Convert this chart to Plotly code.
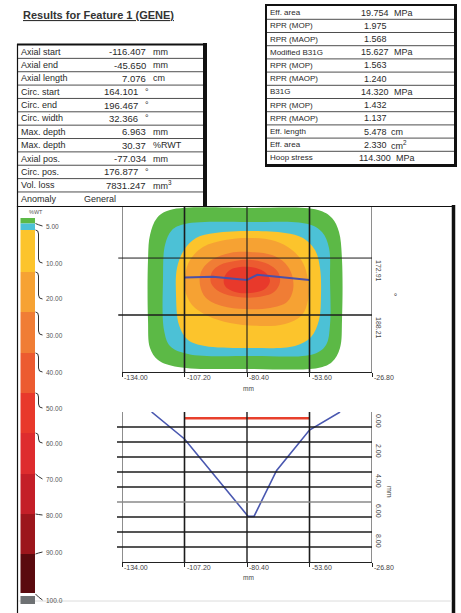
import plotly.graph_objects as go

W, H = 461, 613
FONT = "Liberation Sans"

# ---------------- data ----------------
title_text = "Results for Feature 1 (GENE)"

left_labels = ["Axial start", "Axial end", "Axial length", "Circ. start", "Circ. end", "Circ. width",
               "Max. depth", "Max. depth", "Axial pos.", "Circ. pos.", "Vol. loss", "Anomaly"]
left_values = ["-116.407", "-45.650", "7.076", "164.101", "196.467", "32.366",
               "6.963", "30.37", "-77.034", "176.877", "7831.247", "General"]
left_units = ["mm", "mm", "cm", "°", "°", "°", "mm", "%RWT", "mm", "°", "mm<sup>3</sup>", ""]

right_labels = ["Eff. area", "RPR (MOP)", "RPR (MAOP)", "Modified B31G", "RPR (MOP)", "RPR (MAOP)",
                "B31G", "RPR (MOP)", "RPR (MAOP)", "Eff. length", "Eff. area", "Hoop stress"]
right_values = ["19.754", "1.975", "1.568", "15.627", "1.563", "1.240",
                "14.320", "1.432", "1.137", "5.478", "2.330", "114.300"]
right_units = ["MPa", "", "", "MPa", "", "", "MPa", "", "", "cm", "cm<sup>2</sup>", "MPa"]

legend_title = "%WT"
legend_labels = ["5.00", "10.00", "20.00", "30.00", "40.00", "50.00",
                 "60.00", "70.00", "80.00", "90.00", "100.0"]
legend_colors = ["#5cb946", "#4cc1d6", "#fcc42c", "#f6a233", "#f07d35", "#ec5b30",
                 "#e8392b", "#de2c2e", "#c41f28", "#9c161c", "#5a0a0e", "#6e7173"]

map_x_ticks = [-134.00, -107.20, -80.40, -53.60, -26.80]
map_x_labels = ["-134.00", "-107.20", "-80.40", "-53.60", "-26.80"]
map_y_ticks = [172.91, 188.21]
map_y_labels = ["172.91", "188.21"]
map_y_range = [203.51, 159.20]

# depth band outlines (axial mm, circumferential deg), outer band first
band0_x = [-113.42, -79.11, -49.95, -43.95, -40.95, -39.66, -39.66, -40.52, -43.95, -49.95,
           -79.11, -109.99, -118.56, -121.99, -122.85, -122.85, -121.99, -118.99]
band0_y = [160.01, 159.47, 160.01, 162.15, 165.91, 173.43, 189.53, 197.05, 200.81, 202.42,
           202.68, 202.15, 200.27, 197.05, 189.53, 173.43, 166.72, 162.15]
band1_x = [-106.98, -79.97, -54.24, -48.24, -45.24, -44.81, -44.81, -46.52, -51.67, -79.11,
           -105.70, -113.42, -115.99, -116.42, -115.56, -112.56]
band1_y = [163.76, 163.23, 163.76, 165.91, 170.21, 178.80, 190.87, 196.24, 198.66, 199.20,
           198.66, 196.51, 192.22, 178.80, 169.40, 165.37]
band2_x = [-94.12, -79.11, -64.10, -56.38, -51.24, -49.09, -48.67, -49.52, -52.95, -59.81,
           -79.11, -98.41, -105.70, -109.56, -110.84, -110.42, -107.41, -102.27]
band2_y = [166.18, 165.64, 166.18, 167.52, 170.74, 175.57, 182.82, 189.53, 194.10, 196.51,
           197.05, 196.51, 194.90, 190.87, 182.82, 175.57, 170.74, 167.52]
band3_x = [-89.83, -79.11, -68.39, -61.10, -56.38, -54.24, -54.24, -56.81, -64.10, -74.82,
           -87.69, -97.12, -103.98, -106.98, -106.98, -104.84, -99.27]
band3_y = [168.06, 167.52, 168.33, 170.74, 174.23, 178.80, 184.16, 188.19, 190.61, 191.14,
           190.34, 188.46, 185.51, 181.48, 177.45, 173.43, 169.94]
band4_x = [-87.69, -79.11, -69.68, -64.10, -61.10, -60.67, -63.25, -70.54, -81.26, -91.12,
           -97.98, -100.55, -100.12, -96.26]
band4_y = [171.55, 171.28, 172.08, 174.23, 177.45, 181.48, 184.70, 186.31, 186.58, 185.78,
           183.63, 180.14, 176.65, 173.69]
band5_x = [-85.54, -78.25, -71.39, -67.11, -66.25, -68.82, -75.68, -84.26, -91.98, -95.84,
           -95.41, -91.98]
band5_y = [173.69, 173.43, 174.50, 176.65, 179.33, 182.02, 183.36, 183.36, 182.02, 179.60,
           176.65, 174.77]
band6_x = [-83.40, -76.54, -72.25, -70.54, -72.68, -79.11, -85.54, -89.83, -90.26, -87.69]
band6_y = [175.30, 175.57, 176.92, 179.06, 181.21, 182.28, 182.02, 180.41, 178.26, 176.11]

path_x = [-107.2, -95.0, -80.4, -76.0, -53.6]
path_y = [178.1, 177.9, 178.8, 177.4, 178.8]

profile_x = [-121.3, -107.2, -79.9, -77.4, -67.7, -53.6, -40.5]
profile_depth = [0.0, 1.8, 6.96, 6.96, 3.9, 1.2, 0.0]
sizing_x = [-107.2, -53.6]
sizing_depth = [0.42, 0.42]
prof_y_ticks = [0, 2, 4, 6, 8]
prof_y_labels = ["0.00", "2.00", "4.00", "6.00", "8.00"]
prof_grid = [1, 2, 3, 4, 5, 6, 7, 8, 9]
prof_y_range = [10, 0]


# ---------------- helpers (pixel -> paper) ----------------
def px(x):
    return x / W


def py(y):
    return 1 - y / H


shapes = []
annotations = []


def hline(y, x0, x1, color="#222", width=1.0):
    shapes.append(dict(type="line", xref="paper", yref="paper", x0=px(x0), x1=px(x1),
                       y0=py(y), y1=py(y), line=dict(color=color, width=width)))


def vline(x, y0, y1, color="#222", width=1.0):
    shapes.append(dict(type="line", xref="paper", yref="paper", x0=px(x), x1=px(x),
                       y0=py(y0), y1=py(y1), line=dict(color=color, width=width)))


def text(x, y, s, size=9, color="#2a2a2a", xanchor="left", yanchor="middle", angle=0,
         xref="paper", yref="paper"):
    annotations.append(dict(x=x, y=y, xref=xref, yref=yref, text=s, showarrow=False,
                            xanchor=xanchor, yanchor=yanchor, textangle=angle,
                            font=dict(family=FONT, size=size, color=color)))


# ---------------- figure ----------------
fig = go.Figure()

bands = [(band0_x, band0_y), (band1_x, band1_y), (band2_x, band2_y), (band3_x, band3_y),
         (band4_x, band4_y), (band5_x, band5_y), (band6_x, band6_y)]
for (bx, by), col in zip(bands, legend_colors[:7]):
    fig.add_trace(go.Scatter(x=bx + bx[:1], y=by + by[:1], mode="lines", fill="toself",
                             fillcolor=col, line=dict(width=0, shape="spline", smoothing=1.0, color=col),
                             hoverinfo="skip", xaxis="x", yaxis="y"))

fig.add_trace(go.Scatter(x=path_x, y=path_y, mode="lines", line=dict(color="#4b50a8", width=2),
                         hoverinfo="skip", xaxis="x", yaxis="y"))

fig.add_trace(go.Scatter(x=sizing_x, y=sizing_depth, mode="lines", line=dict(color="#e8402c", width=2.6),
                         hoverinfo="skip", xaxis="x2", yaxis="y2"))
fig.add_trace(go.Scatter(x=profile_x, y=profile_depth, mode="lines", line=dict(color="#4a58b0", width=1.6),
                         hoverinfo="skip", xaxis="x2", yaxis="y2"))

# map grid lines (drawn above the bands)
map_v_widths = [1.0, 1.6, 1.1, 1.6, 1.0]
for v, w in zip(map_x_ticks, map_v_widths):
    shapes.append(dict(type="line", xref="x", yref="y domain", x0=v, x1=v, y0=0, y1=1,
                       line=dict(color="#1c1c1c", width=w)))
for v, w in zip(map_y_ticks, [1.0, 1.6]):
    shapes.append(dict(type="line", xref="x domain", yref="y", x0=-0.015, x1=1, y0=v, y1=v,
                       line=dict(color="#1c1c1c", width=w)))

# profile grid lines
prof_v_widths = [1.0, 1.6, 1.4, 1.6, 1.0]
for v, w in zip(map_x_ticks, prof_v_widths):
    shapes.append(dict(type="line", xref="x2", yref="y2 domain", x0=v, x1=v, y0=0, y1=1,
                       line=dict(color="#1c1c1c", width=w)))
for v in prof_grid:
    shapes.append(dict(type="line", xref="x2 domain", yref="y2", x0=-0.02, x1=1, y0=v, y1=v,
                       line=dict(color="#8a8a8a" if v == 6 else "#1c1c1c", width=1.3)))

# tick labels (x below, rotated y on the right)
for v, s in zip(map_x_ticks, map_x_labels):
    text(v, py(378), s, size=7, color="#444", xanchor="left", xref="x")
    text(v, py(567), s, size=7, color="#444", xanchor="left", xref="x2")
for v, s in zip(map_y_ticks, map_y_labels):
    text(px(379), v, s, size=7, color="#444", xanchor="center", yanchor="top", angle=90, yref="y")
for v, s in zip(prof_y_ticks, prof_y_labels):
    text(px(379), v, s, size=7, color="#444", xanchor="center", yanchor="top", angle=90, yref="y2")
text(px(393), py(294), "°", size=8, color="#222", xanchor="center", yanchor="middle", angle=90)
text(px(390), py(492), "mm", size=7, color="#444", xanchor="center", yanchor="middle", angle=90)
text(px(249), py(388), "mm", size=6.5, color="#444", xanchor="center")
text(px(249), py(577), "mm", size=6.5, color="#444", xanchor="center")

# ---------------- title ----------------
text(px(21), py(15), "<b><u>" + title_text + "</u></b>", size=11, color="#333")

# ---------------- left table ----------------
lt_top, lt_row = 45.0, 13.36
for i, (lab, val, unit) in enumerate(zip(left_labels, left_values, left_units)):
    yc = lt_top + lt_row * (i + 0.5)
    text(px(19), py(yc), lab, size=9)
    if unit == "":
        text(px(82), py(yc), val, size=9)
    else:
        right_edge = 140 if unit == "°" else 148
        text(px(right_edge), py(yc), val, size=9.5, xanchor="right")
        text(px(right_edge + 3), py(yc), unit, size=9)
for k in range(1, 12):
    hline(lt_top + lt_row * k, 17, 203, color="#3a3a3a", width=0.9)
hline(44.5, 17, 206, color="#111", width=2)
vline(17.5, 44, 207, color="#111", width=1.2)
vline(205, 43, 207, color="#111", width=4)

# ---------------- right table ----------------
rt_top, rt_row = 6.1, 13.2
for i, (lab, val, unit) in enumerate(zip(right_labels, right_values, right_units)):
    yc = rt_top + rt_row * (i + 0.5)
    text(px(268), py(yc), lab, size=8)
    text(px(375), py(yc), val, size=9, xanchor="center")
    if unit:
        wnum = ((len(val) - 1) * 0.556 + 0.278) * 9
        text(px(375 + wnum / 2 + 3), py(yc), unit, size=9)
for k in range(1, 12):
    hline(rt_top + rt_row * k, 266, 454, color="#3a3a3a", width=0.9)
hline(5, 265, 456, color="#111", width=2)
hline(165.5, 265, 457, color="#111", width=3)
vline(266, 4, 166, color="#111", width=2)
vline(455.5, 4, 167, color="#111", width=3)

# ---------------- panel border ----------------
hline(206.5, 17, 455, color="#111", width=1.2)
vline(17.5, 206, 613, color="#111", width=1.2)
vline(453.5, 205, 613, color="#111", width=3.5)
hline(601, 18, 452, color="#dcdcdc", width=1)

# ---------------- colour legend ----------------
block_tops = [218, 223.5, 230, 272, 312, 353, 393, 433, 474, 514, 554, 596]
block_bots = [223.5, 230, 272, 312, 353, 393, 433, 474, 514, 554, 593, 604]
for t, b, c in zip(block_tops, block_bots, legend_colors):
    shapes.append(dict(type="rect", xref="paper", yref="paper", x0=px(20.5), x1=px(35),
                       y0=py(b), y1=py(t), fillcolor=c, line=dict(width=0)))
text(px(36), py(212), legend_title, size=5.5, color="#555", xanchor="center")
label_y = [226, 263, 299, 335, 372, 408, 443, 479, 515, 552, 600]
bound_y = [223.5, 230, 272, 312, 353, 393, 433, 474, 514, 554, 594]
for lab, ly, by in zip(legend_labels, label_y, bound_y):
    if abs(ly - by) < 7:
        path = f"M {px(35.5)} {py(by)} L {px(38.5)} {py((by + ly) / 2)} L {px(42.5)} {py(ly)}"
    else:
        path = (f"M {px(35.5)} {py(by)} Q {px(38.5)} {py(by)} {px(38.5)} {py(by + 4)} "
                f"L {px(38.5)} {py(ly - 4)} Q {px(38.5)} {py(ly)} {px(42.5)} {py(ly)}")
    shapes.append(dict(type="path", xref="paper", yref="paper", path=path,
                       line=dict(color="#333", width=1)))
    text(px(43.5), py(ly), lab, size=6.5, color="#555")

axis_x = dict(range=[-134, -26.8], showticklabels=False, ticks="outside", tickvals=map_x_ticks,
              ticklen=4, tickcolor="#222", showline=True, linecolor="#222", linewidth=1,
              showgrid=False, zeroline=False, fixedrange=True, automargin=False)
axis_y = dict(showticklabels=False, showgrid=False, zeroline=False, ticks="", fixedrange=True,
              automargin=False)

fig.update_layout(
    template="none",
    width=W, height=H, autosize=False,
    margin=dict(l=0, r=0, t=0, b=0, pad=0, autoexpand=False),
    paper_bgcolor="white", plot_bgcolor="rgba(0,0,0,0)",
    showlegend=False,
    font=dict(family=FONT, color="#333"),
    xaxis=dict(domain=[px(122), px(372)], anchor="y", **axis_x),
    yaxis=dict(domain=[py(372), py(207)], range=map_y_range, anchor="x", **axis_y),
    xaxis2=dict(domain=[px(122), px(372)], anchor="y2", **axis_x),
    yaxis2=dict(domain=[py(562), py(412)], range=prof_y_range, anchor="x2", **axis_y),
    shapes=shapes,
    annotations=annotations,
)

page_fix = (
    "document.body.style.margin='0px';"
    "document.documentElement.style.overflow='hidden';"
    "document.body.style.overflow='hidden';"
)

fig.write_html("out.html", config={"displayModeBar": False, "responsive": False},
               post_script=page_fix)
